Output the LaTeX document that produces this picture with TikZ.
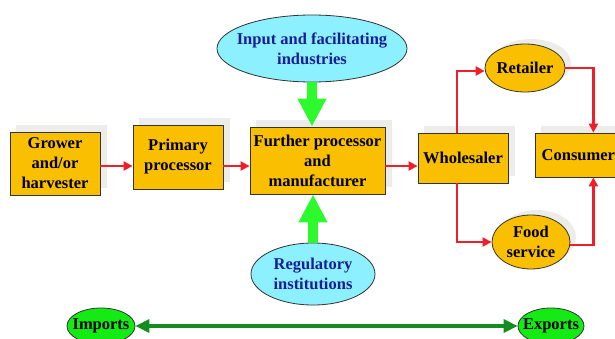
\documentclass[tikz,border=0pt]{standalone}
\usepackage{fontspec}
\setmainfont{Liberation Serif}
\usetikzlibrary{arrows.meta,shapes.geometric}
\definecolor{boxgold}{RGB}{250,192,0}
\definecolor{shadowgray}{RGB}{236,236,234}
\definecolor{skycyan}{RGB}{140,240,255}
\definecolor{inkblue}{RGB}{25,30,150}
\definecolor{flowred}{RGB}{240,30,40}
\definecolor{limegreen}{RGB}{45,250,45}
\definecolor{tradegreen}{RGB}{20,140,30}
\definecolor{dotgreen}{RGB}{20,235,20}
\tikzset{
  txt/.style={font=\bfseries\fontsize{16.5}{20}\selectfont, align=center},
  stagebox/.style={txt, rectangle, draw=black!80, line width=0.8pt, fill=boxgold,
    inner sep=0pt, text=black},
  boxshadow/.style={fill=shadowgray, draw=none},
  oval/.style={ellipse, inner sep=0pt, draw=black!80, line width=0.8pt},
  outlet/.style={oval, fill=boxgold},
  agency/.style={oval, fill=skycyan},
  trade/.style={oval, fill=dotgreen},
  flow/.style={draw=flowred, line width=2.2pt, -{Triangle[length=9pt,width=9pt]}},
  support/.style={draw=limegreen, line width=10pt, -{Triangle[length=28pt,width=27pt]}},
  tradeflow/.style={draw=tradegreen, line width=4pt,
    {Triangle[length=14pt,width=13pt]}-{Triangle[length=14pt,width=13pt]}},
}
\begin{document}
\begin{tikzpicture}[x=1pt,y=-1pt]
\useasboundingbox (0,0) rectangle (615,339);
\clip (0,0) rectangle (615,339);

% soft shadows behind the boxes
\fill[boxshadow] (16,125) rectangle (107,188);
\fill[boxshadow] (139,118) rectangle (230,182);
\fill[boxshadow] (256,120) rectangle (392,187);
\fill[boxshadow] (424,126) rectangle (515,176);
\fill[boxshadow] (541,126) rectangle (622,170);
\fill[boxshadow] (531,63) ellipse [x radius=40, y radius=24];
\fill[boxshadow] (537,237) ellipse [x radius=39, y radius=27];

% chain stages
\node[stagebox, minimum width=90pt, minimum height=63pt] (grower) at (55,163.5)
  {Grower\\and/or\\harvester};
\node[stagebox, minimum width=90pt, minimum height=64pt] (primary) at (178,157)
  {Primary\\processor};
\node[stagebox, minimum width=135pt, minimum height=67pt] (further) at (317.5,160.5)
  {Further processor\\and\\manufacturer};
\node[stagebox, minimum width=90pt, minimum height=50pt] (wholesaler) at (463,158)
  {Wholesaler};
\node[stagebox, minimum width=86pt, minimum height=44pt, anchor=west] (consumer) at (535,155)
  {Consumer};

% outlets
\node[outlet, minimum width=80pt, minimum height=48pt,
  label={[txt]center:Retailer}] (retailer) at (525,68) {};
\node[outlet, minimum width=78pt, minimum height=54pt,
  label={[txt]center:Food\\service}] (food) at (531,242) {};

% supporting bodies
\node[agency, minimum width=190pt, minimum height=67pt,
  label={[txt, text=inkblue]center:Input and facilitating\\industries}] (input) at (312,48.5) {};
\node[agency, minimum width=124pt, minimum height=62pt,
  label={[txt, text=inkblue]center:Regulatory\\institutions}] (regulatory) at (313,274) {};

% trade
\node[trade, minimum width=68pt, minimum height=36pt,
  label={[txt]center:Imports}] (imports) at (101,326) {};
\node[trade, minimum width=66pt, minimum height=36pt,
  label={[txt]center:Exports}] (exports) at (551,326) {};

% product flow
\coordinate (mainline) at (0,166);
\draw[flow] (grower.east |- mainline) -- (primary.west |- mainline);
\draw[flow] (primary.east |- mainline) -- (further.west |- mainline);
\draw[flow] (further.east |- mainline) -- (wholesaler.west |- mainline);
\draw[flow] ([xshift=-6pt]wholesaler.north) |- ([yshift=-3pt]retailer.west);
\draw[flow] ([xshift=-6pt]wholesaler.south) |- (food.west);
\draw[flow] (retailer.east) -| ([xshift=15pt]consumer.north);
\draw[flow] ([yshift=-3pt]food.east) -| ([xshift=15pt]consumer.south);

% support arrows
\draw[support] (input.south) -- (further.north -| input.south);
\draw[support] (regulatory.north) -- (further.south -| regulatory.north);

% imports and exports
\draw[tradeflow] (imports.east) -- (exports.west);
\end{tikzpicture}
\end{document}
